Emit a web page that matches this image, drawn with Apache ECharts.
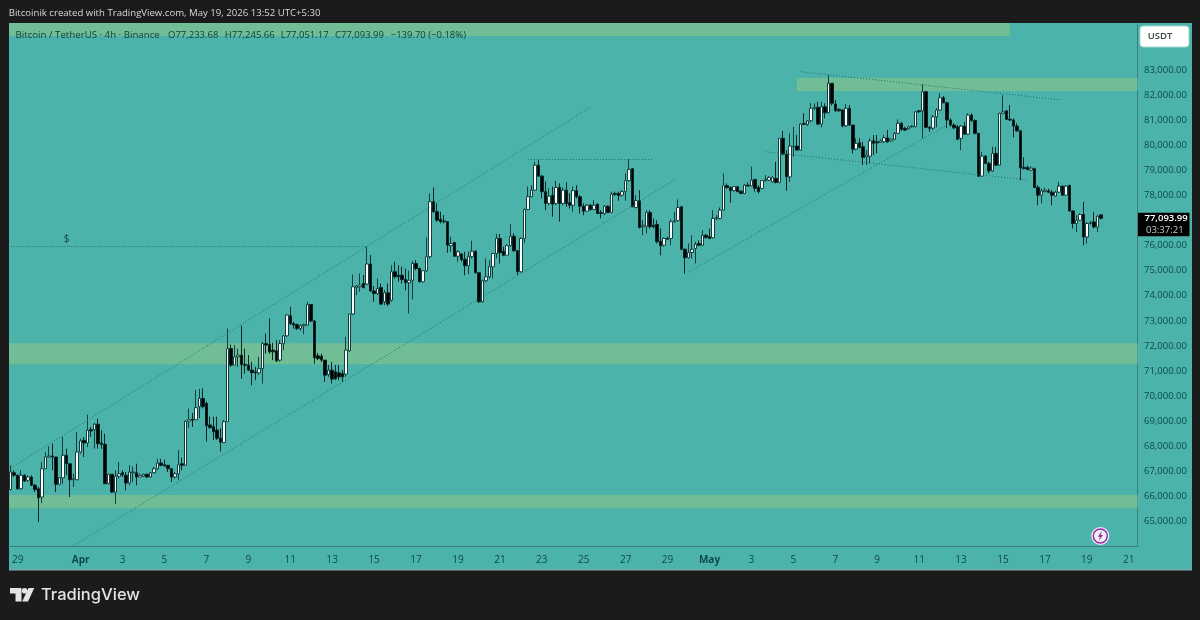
<!DOCTYPE html>
<html><head><meta charset="utf-8">
<style>html,body{margin:0;padding:0;background:#1c1b1b}#c{width:1200px;height:620px}</style>
<script src="https://cdn.jsdelivr.net/npm/echarts@6/dist/echarts.min.js"></script>
</head><body><div id="c"></div>
<script>
// rows: [open, close, low, high]
const candlesMarch=[
[66254,66960,66227,67227],[66930,66830,66760,67030],[66830,66290,66250,66860],[66290,66830,66250,67030],[66830,66600,66560,66870],[66630,66760,66560,66830],[66760,66430,66400,66830],[66430,66250,66160,66490],[66290,65930,64960,66360],[65960,67090,65720,67360],
[67090,67560,67090,67760],[67560,67600,67530,67990],[67600,67560,67030,68090],[67560,66470,66160,67560],[66470,66730,66430,66760],[66730,67630,66490,68360],[67630,67290,66830,67890],[67290,66650,65960,67290],[66650,66690,66360,66890],[66650,67760,66630,68560]];
const candlesEarlyApril=[
[67760,68200,67690,68290],[68230,68120,67560,68360],[68120,68630,67960,69250],[68650,68600,68360,68760],[68650,68870,67890,68920],[68870,68090,67890,69090],[68120,68070,67890,68630],[68070,66490,66490,68490],[66490,66870,66470,66890],[66870,66160,66120,66870],
[66160,66790,65690,67030],[66790,66890,66700,67360],[66930,66850,66760,67030],[66830,66520,66230,66960],[66520,66960,66430,67230],[66930,66960,66560,67190],[66930,66760,66430,67290],[66760,66830,66760,66900],[66790,66870,66760,66900],[66870,66760,66730,66900],
[66760,66930,66730,66960],[66930,67090,66890,67160],[67090,67320,67030,67490],[67320,67230,67190,67490],[67250,67200,67190,67450],[67230,67090,66960,67230],[67090,66760,66560,67090],[66760,66890,66690,66960],[66890,67250,66630,67830],[67290,67230,67030,67530],
[67230,68990,67200,69020],[68990,69050,68730,69490],[69070,69030,68760,69320],[69050,69530,69050,70230],[69570,69900,69110,70280],[69900,69570,69500,70300],[69700,68810,68180,69770],[68840,68730,68700,69170],[68770,68570,68240,69170],[68640,68310,68240,69170],
[68310,68150,67780,68710],[68140,68970,68110,69040],[68970,71890,68970,72690],[71890,71230,71160,72050],[71230,71560,71230,72030],[71560,71630,71160,71890],[71630,71250,70690,72800],[71260,71230,70890,71890],[71230,71030,71000,71630],[71030,70930,70430,71360],
[70960,70920,70630,71160],[70920,71090,70830,71560],[71090,72090,70490,72160],[72090,72030,71690,72490],[72050,71760,71690,73090],[71830,71760,71430,72120],[71800,71400,71360,72230],[71430,72090,71360,72230],[72090,72400,71830,72430],[72400,73230,72360,73250]];
const candlesMidApril=[
[73200,72890,72830,73560],[72890,72830,72690,72960],[72850,72690,72630,72890],[72690,72800,72600,72870],[72800,72850,72470,72890],[72830,73650,72800,73760],[73650,72990,72960,73650],[72990,71520,71290,73030],[71600,71490,71430,71720],[71590,71430,71360,71690],
[71430,70830,70560,71430],[70850,71030,70760,71230],[71030,70670,70490,71360],[70960,70690,70630,71230],[70920,70760,70630,71230],[70890,70760,70560,71030],[70870,71830,70760,72360],[71800,73270,71760,73290],[73270,74360,73230,74850],[74330,74390,74030,74430],
[74360,74430,74160,74890],[74490,74330,74290,74830],[74470,75270,74430,75960],[75270,74190,74160,75630],[74190,74090,73760,74390],[74090,74290,74030,74690],[74330,73670,73630,74490],[73760,74120,73630,74230],[74120,73670,73590,74490],[73820,74960,73760,75220],
[74960,74760,74690,75360],[74820,74760,74560,75220],[74820,74650,74490,75160],[74650,74520,74220,75090],[74520,74620,73290,75000],[74620,75290,73850,75380],[75290,75090,75020,75420],[75090,74560,74530,75130],[74560,75000,74520,75020],[75000,75560,74960,76330],
[75560,77760,75490,78090],[77760,77360,77320,78320],[77360,77020,76960,77690],[77050,76960,76890,77360],[76990,76960,76890,77220],[76960,76020,75720,76960],[76000,76090,75760,76360],[76120,75580,75560,76160],[75580,75760,75360,75820],[75670,75450,75360,75690]];
const candlesLateApril=[
[75460,75200,74820,75760],[75200,75560,74860,75760],[75560,75780,75490,76200],[75780,74920,74890,75820],[74920,73760,73720,74920],[73760,74600,73720,74650],[74600,74760,74560,75490],[74760,75160,74690,75420],[75160,75690,74690,75720],[75690,76290,75500,76470],
[76290,75720,75290,76470],[75780,75620,75580,75960],[75620,76000,75620,76060],[76000,76380,75960,76860],[76380,75800,75760,76490],[75800,74960,74820,75820],[74960,76290,74930,76330],[76290,77450,76120,77490],[77450,77960,77420,78360],[77960,78220,77930,78420],
[78220,79220,78200,79360],[79220,78780,78760,79420],[78780,78160,77890,78820],[78160,77690,77420,78560],[77690,77980,77620,78290],[78020,77660,77160,78360],[77690,78330,77620,78600],[78330,77690,76960,78490],[77690,78220,77620,78330],[78220,77690,77560,78530],
[77720,77620,77490,78090],[77620,78200,77360,78360],[78200,77960,77890,78420],[77960,77580,77290,78020],[77580,77380,77220,77690],[77380,77620,77380,77660],[77620,77450,77400,77660],[77450,77620,77420,77820],[77660,77290,77260,77690],[77320,77290,77090,77420],
[77290,77580,77220,77620],[77580,77330,77300,77610],[77330,78060,77290,78160],[78090,78050,77990,78160],[78090,78000,77800,78160],[78020,78160,77960,78220],[78160,78600,77800,78890],[78600,79050,78560,79450],[79080,77560,77530,79080],[77530,77800,77490,78020],
[77800,76730,76690,78220],[76760,76820,76420,77020],[76780,77330,76490,77420],[77330,76760,76690,77420],[76820,76760,76690,77090],[76850,76160,76090,77020],[76180,76000,75620,76690],[76020,76290,75960,76330],[76290,76260,76250,76360],[76290,76960,76020,77050],
[76960,77000,76920,77360],[77000,77530,76960,77850],[77560,75860,75820,77560],[75860,75520,74890,75890],[75520,75730,75490,76090],[75730,75860,75490,76420],[75890,76060,75290,76160],[76090,76020,75980,76220],[76020,76420,75980,76620],[76420,76330,76290,76460]];
const candlesEarlyMay=[
[76360,76290,76290,76690],[76320,77090,76290,77420],[77090,77130,77020,77220],[77090,77420,77050,77530],[77420,78400,77400,78890],[78400,78320,78290,78490],[78330,78200,77720,78360],[78200,78360,78160,78380],[78360,78160,78130,78380],[78180,78090,78060,78220],
[78090,78420,78060,78460],[78420,78390,78360,78530],[78390,78620,78380,79160],[78650,78290,78160,78650],[78330,78160,78090,78420],[78290,78600,78250,78620],[78600,78650,78560,78820],[78620,78730,78580,78780],[78550,78720,78520,78780],[78690,78530,78490,79350],
[78530,80290,78500,80300],[80290,79660,79620,80590],[79660,78750,78200,79820],[78750,79980,78550,80490],[79950,79980,79550,80750],[79980,79820,79790,80420],[79820,80860,79790,80890],[80880,80850,80820,81290],[80850,80990,80780,81020],[80990,81490,80930,81690],
[81490,81530,81420,81690],[81530,80860,80820,81750],[80860,81550,80730,81750],[81550,81310,81090,81690],[81310,82490,81290,82820],[82490,81690,81600,82500],[81660,81390,81360,81820],[81450,81390,81350,81490],[81420,80780,80730,81450],[80790,81490,80750,81660],
[81490,80820,80780,81620],[80820,79860,79690,80820],[79860,80090,79820,80290],[80110,79930,79890,80290],[79950,79530,79220,80150],[79550,79620,79220,79820],[79580,80190,79290,80290],[80190,80090,79620,80420],[80150,80110,79690,80420],[80130,80190,80110,80250]];
const candlesLateMay=[
[80150,80310,80110,80420],[80310,80150,80110,80620],[80190,80260,80150,80290],[80250,80490,80220,80550],[80490,80890,80460,81050],[80890,80650,80590,80950],[80690,80620,80580,80750],[80670,80750,80640,80790],[80750,80780,80720,80820],[80760,81350,80730,81390],
[81390,81350,81310,81420],[81390,82150,80290,82460],[82150,80730,80690,82190],[80730,80690,80550,80790],[80700,81150,80620,81220],[81150,81420,80730,81490],[81420,81910,81390,82090],[81910,81710,81690,81980],[81710,81020,80690,81750],[81020,80820,80750,81090],
[80820,80710,80650,80890],[80750,80250,80220,80820],[80290,80780,79820,80820],[80780,80460,80420,80950],[80460,81220,80420,81290],[81220,81000,80950,81290],[81000,80490,80450,81050],[80490,78780,78750,80500],[78780,79580,78750,79750],[79580,79290,79260,79620],
[79290,78990,78890,79350],[78990,79690,78950,79950],[79690,79220,79180,79950],[79220,81290,79190,81310],[81290,81350,81260,82020],[81390,81050,81020,81420],[81050,81020,80990,81620],[81020,80780,80330,81090],[80780,80590,80550,80890],[80590,79110,78620,80620],
[79130,79080,79050,79530],[79130,79050,79000,79200],[79020,79100,78980,79170],[79080,78330,78300,79120],[78330,78020,77620,78420],[78020,78190,77690,78290],[78170,78220,78130,78310],[78190,78140,78100,78280],[78140,78020,77620,78220],[77980,78140,77950,78200],
[78140,78380,78110,78550],[78380,78020,77990,78410],[78020,78380,77990,78420],[78410,77390,77360,78440],[77390,76890,76690,77420],[76890,77020,76550,77220],[77020,77250,76990,77290],[77250,76350,76020,77750],[76350,76890,76090,76950],[76890,76920,76850,76990],
[76950,76750,76690,77350],[76750,77180,76550,77220],[77233.68,77093.99,77051.17,77245.66]];

const priceTicks=[65000,66000,67000,68000,69000,70000,71000,72000,73000,74000,75000,76000,77000,78000,79000,80000,81000,82000,83000];
const tickDates=['03-29','04-01','04-03','04-05','04-07','04-09','04-11','04-13','04-15','04-17','04-19','04-21','04-23','04-25','04-27','04-29','05-01','05-03','05-05','05-07','05-09','05-11','05-13','05-15','05-17','05-19','05-21'];
const tickLabels=['29','Apr','3','5','7','9','11','13','15','17','19','21','23','25','27','29','May','3','5','7','9','11','13','15','17','19','21'];
const slotCount=323, firstSlotUTC=Date.UTC(2026,2,28,16);

const lastClose=77093.99, countdown='03:37:21';
const headerText='Bitcoinik created with TradingView.com, May 19, 2026 13:52 UTC+5:30';
const legendTitle='Bitcoin / TetherUS · 4h · Binance';
const legendValues=['O77,233.68','H77,245.66','L77,051.17','C77,093.99','−139.70 (−0.18%)'];
// trend lines: [start bar, start price, end bar, end price]
const channelUpper=[0,67120,166,81540], channelLower=[18,64020,190,78625];
const peakLine=[148,79440,184,79440], dollarLine=[0,75961,102,75961];
const mayRising=[194,74950,268,80823], mayTop=[226,82952,301,81821], mayBottom=[216,79756,291,78625];
// zones: [from bar or null, to bar or null, low price, high price]
const zoneTop=[null,286,84378,84898], zoneMay=[225,null,82181,82700], zoneMid=[null,null,71263,72102], zoneLow=[null,null,65510,66041];

const candles=[].concat(candlesMarch,candlesEarlyApril,candlesMidApril,candlesLateApril,candlesEarlyMay,candlesLateMay);
const categories=[];
for(let i=0;i<slotCount;i++){const d=new Date(firstSlotUTC+i*4*3600e3);
  const p=n=>String(n).padStart(2,'0');
  categories.push(p(d.getUTCMonth()+1)+'-'+p(d.getUTCDate())+' '+p(d.getUTCHours()));}
const tickCat=s=>tickDates.includes(s.slice(0,5))&&s.slice(6)==='00';

const INK='#0c4a47', FONT='"Open Sans","Noto Sans",sans-serif';
const zoneColor='#70bd96', panel='#4cb3aa';
const z2=z=>[{name:'',...(z[0]!=null?{xAxis:z[0]}:{}),yAxis:z[3]},{...(z[1]!=null?{xAxis:z[1]}:{}),yAxis:z[2]}];
const l2=a=>[{coord:[a[0],a[1]]},{coord:[a[2],a[3]]}];

const chart=echarts.init(document.getElementById('c'),null,{renderer:'canvas'});
const txt=(x,y,text,fill,size,extra)=>({type:'text',silent:true,z:100,x,y,style:Object.assign({text,fill,font:`${size}px ${FONT}`,verticalAlign:'middle',textAlign:'left'},extra||{})});
const legendX=[168,224.7,280.7,335,390.7];
chart.setOption({
 animation:false,backgroundColor:'#1c1b1b',
 grid:{left:9,top:23,width:1128.5,height:523.1,show:false},
 xAxis:{type:'category',data:categories,boundaryGap:true,
  axisLine:{show:true,lineStyle:{color:'#3b7f7c',width:1}},axisTick:{show:false},splitLine:{show:false},
  axisLabel:{margin:9,hideOverlap:false,color:INK,fontSize:10,fontFamily:FONT,
   interval:(i,v)=>tickCat(v),
   formatter:v=>{const t=tickLabels[tickDates.indexOf(v.slice(0,5))];return /[A-Z]/.test(t)?'{b|'+t+'}':t;},
   rich:{b:{fontWeight:'bold',color:INK,fontSize:10,fontFamily:FONT}}}},
 yAxis:{type:'value',position:'right',min:64000,max:84898,scale:true,
  axisLine:{show:true,onZero:false,lineStyle:{color:'#3b7f7c',width:1}},axisTick:{show:false},splitLine:{show:false},
  axisLabel:{customValues:priceTicks,margin:6.5,padding:[2,0,0,0],color:INK,fontSize:9.5,fontFamily:FONT,formatter:v=>v.toLocaleString('en-US')+'.00'}},
 series:[{type:'candlestick',data:candles,barWidth:3,
  itemStyle:{color:'#ffffff',color0:'#000000',borderColor:'#123f3e',borderColor0:'#0a2523',borderWidth:1},
  markArea:{silent:true,itemStyle:{color:zoneColor,opacity:1},label:{show:false},data:[zoneTop,zoneMay,zoneMid,zoneLow].map(z2)},
  markLine:{silent:true,symbol:'none',z:5,label:{show:false},lineStyle:{color:'#1f6f69',type:[1,2],width:1},
   data:[channelUpper,channelLower,peakLine,dollarLine,mayRising,mayTop,mayBottom].map(l2)},
  markPoint:{silent:true,symbol:'circle',symbolSize:0,data:[{coord:[16,76268],label:{show:true,formatter:'$',color:'#123c3a',fontSize:10,fontFamily:FONT,position:'inside'}}]}
 }]
});
// price tag follows the last close on the price scale
const tagY=chart.convertToPixel({yAxisIndex:0},lastClose);
chart.setOption({graphic:[
  {type:'rect',silent:true,z:-1,shape:{x:9,y:23,width:1183,height:547},style:{fill:panel}},
  {type:'rect',silent:true,z:-1,shape:{x:9,y:569.5,width:1183,height:1},style:{fill:'#8aa9a5'}},
  txt(8.7,13,headerText,'#d8d8d8',9.6),
  txt(15.5,35,legendTitle,'#0f3b39',9.7),
  ...legendValues.map((v,i)=>txt(legendX[i],35,v,'#0f3b39',9.5)),
  {type:'rect',silent:true,z:100,shape:{x:1140,y:26,width:49,height:21,r:3},style:{fill:'#ffffff',stroke:'#9fd8cf',lineWidth:1}},
  txt(1147.7,36.5,'USDT','#3c4446',9.5,{font:`600 9.5px ${FONT}`}),
  {type:'circle',silent:true,z:100,shape:{cx:1100.3,cy:536,r:9},style:{fill:'#f4f1f6'}},
  {type:'circle',silent:true,z:101,shape:{cx:1100.3,cy:536,r:7},style:{fill:'#eef2f0',stroke:'#9c27b0',lineWidth:1.5}},
  {type:'polygon',silent:true,z:102,shape:{points:[[1102,531],[1097.8,536.8],[1100,536.8],[1098.8,541],[1103,535],[1100.8,535]]},style:{fill:'#9c27b0'}},
  {type:'polygon',silent:true,z:100,shape:{points:[[10,588],[21.5,588],[21.5,601.5],[15.5,601.5],[15.5,593.5],[10,593.5]]},style:{fill:'#e4e4e4'}},
  {type:'circle',silent:true,z:100,shape:{cx:24.6,cy:590.8,r:2.8},style:{fill:'#e4e4e4'}},
  {type:'polygon',silent:true,z:100,shape:{points:[[28.5,588],[34.3,588],[28,601.5],[22.2,601.5]]},style:{fill:'#e4e4e4'}},
  txt(41,595,'TradingView','#e4e4e4',16.5,{font:`500 16.5px "Inter","Noto Sans",sans-serif`}),
  {type:'rect',silent:true,z:100,shape:{x:1138,y:tagY-5.5,width:51.5,height:23.5},style:{fill:'#000000'}},
  txt(1144.5,tagY,lastClose.toLocaleString('en-US',{minimumFractionDigits:2}),'#ffffff',9.5,{font:`600 9.5px ${FONT}`}),
  txt(1146,tagY+11.5,countdown,'#c8c8c8',9.5)
]});
</script></body></html>
